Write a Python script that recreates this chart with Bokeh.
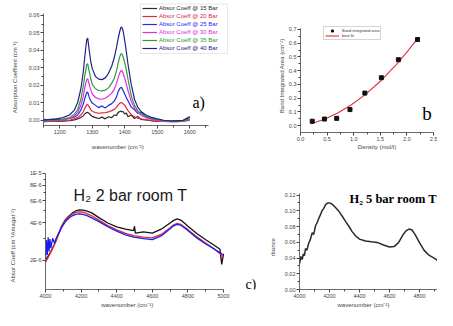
from bokeh.plotting import figure
from bokeh.layouts import column, row
from bokeh.models import (FixedTicker, PrintfTickFormatter, CustomJSTickFormatter, Label,
                          Legend, LegendItem, BoxAnnotation)
from bokeh.embed import file_html
from bokeh.resources import INLINE

# ---------------- panel a data ----------------
wn_a = [1150, 1170, 1190, 1210, 1230, 1245, 1255, 1265, 1272, 1278,
        1283, 1286, 1290, 1295, 1300, 1310, 1320, 1330, 1340, 1350,
        1360, 1368, 1375, 1380, 1385, 1388, 1391, 1395, 1400, 1405,
        1410, 1420, 1430, 1440, 1450, 1465, 1480, 1500, 1520, 1540,
        1560, 1580, 1600]
bar15 = [-0.0008, -0.0007, -0.0006, -0.0005, -0.0003, 0.0002, 0.0008, 0.0016, 0.0025, 0.0038,
         0.0044, 0.0045, 0.0040, 0.0030, 0.0022, 0.0015, 0.0010, 0.0018, 0.0008, 0.0020,
         0.0015, 0.0030, 0.0028, 0.0045, 0.0050, 0.0053, 0.0048, 0.0050, 0.0035, 0.0042,
         0.0020, 0.0030, 0.0010, 0.0022, 0.0005, 0.0002, -0.0003, -0.0006, -0.0007, -0.0006,
         -0.0004, 0.0000, 0.0020]
bar20 = [-0.0006, -0.0005, -0.0004, -0.0003, 0.0000, 0.0008, 0.0015, 0.0030, 0.0048, 0.0072,
         0.0088, 0.0090, 0.0078, 0.0062, 0.0050, 0.0044, 0.0040, 0.0042, 0.0043, 0.0048,
         0.0055, 0.0062, 0.0075, 0.0088, 0.0098, 0.0101, 0.0100, 0.0094, 0.0085, 0.0070,
         0.0055, 0.0032, 0.0020, 0.0012, 0.0008, 0.0003, -0.0001, -0.0005, -0.0007, -0.0008,
         -0.0008, -0.0006, 0.0000]
bar25 = [0.0005, 0.0002, 0.0006, 0.0004, 0.0010, 0.0018, 0.0030, 0.0058, 0.0090, 0.0130,
         0.0158, 0.0162, 0.0135, 0.0112, 0.0098, 0.0085, 0.0072, 0.0082, 0.0070, 0.0085,
         0.0095, 0.0110, 0.0135, 0.0165, 0.0182, 0.0188, 0.0185, 0.0170, 0.0150, 0.0128,
         0.0112, 0.0075, 0.0060, 0.0040, 0.0045, 0.0020, 0.0010, 0.0003, -0.0002, -0.0005,
         -0.0006, -0.0003, 0.0005]
bar30 = [-0.0004, -0.0003, -0.0002, 0.0002, 0.0010, 0.0025, 0.0045, 0.0085, 0.0135, 0.0195,
         0.0232, 0.0238, 0.0210, 0.0175, 0.0150, 0.0130, 0.0122, 0.0120, 0.0126, 0.0138,
         0.0155, 0.0178, 0.0212, 0.0245, 0.0272, 0.0282, 0.0284, 0.0268, 0.0240, 0.0205,
         0.0170, 0.0108, 0.0068, 0.0044, 0.0030, 0.0015, 0.0006, -0.0002, -0.0006, -0.0008,
         -0.0008, -0.0005, 0.0006]
bar35 = [-0.0003, -0.0002, 0.0000, 0.0005, 0.0015, 0.0035, 0.0060, 0.0120, 0.0190, 0.0265,
         0.0318, 0.0324, 0.0285, 0.0240, 0.0205, 0.0180, 0.0170, 0.0168, 0.0172, 0.0185,
         0.0212, 0.0240, 0.0285, 0.0330, 0.0365, 0.0378, 0.0380, 0.0362, 0.0330, 0.0285,
         0.0235, 0.0140, 0.0085, 0.0055, 0.0038, 0.0022, 0.0012, 0.0003, -0.0003, -0.0006,
         -0.0007, -0.0004, 0.0008]
bar40 = [0.0000, 0.0005, 0.0008, 0.0015, 0.0030, 0.0058, 0.0100, 0.0180, 0.0270, 0.0380,
         0.0460, 0.0470, 0.0410, 0.0340, 0.0295, 0.0250, 0.0235, 0.0232, 0.0242, 0.0268,
         0.0310, 0.0360, 0.0420, 0.0470, 0.0510, 0.0530, 0.0532, 0.0510, 0.0455, 0.0390,
         0.0320, 0.0205, 0.0120, 0.0075, 0.0050, 0.0030, 0.0018, 0.0008, 0.0000, -0.0003,
         -0.0004, 0.0000, 0.0018]
labels_a = ["Absor Coeff @ 15 Bar", "Absor Coeff @ 20 Bar", "Absor Coeff @ 25 Bar",
            "Absor Coeff @ 30 Bar", "Absor Coeff @ 35 Bar", "Absor Coeff @ 40 Bar"]
colors_a = ["#2a2a2a", "#e0283a", "#2a2ae8", "#e22ee2", "#2f9a3a", "#22228a"]
xticks_a = [1200, 1300, 1400, 1500, 1600]
yticks_a = [0.00, 0.01, 0.02, 0.03, 0.04, 0.05, 0.06]

# ---------------- panel b data ----------------
density = [0.22, 0.45, 0.68, 0.93, 1.21, 1.52, 1.84, 2.20]
band_area = [0.032, 0.048, 0.053, 0.117, 0.237, 0.349, 0.480, 0.627]
fit_x = [0.2, 0.45, 0.7, 0.95, 1.2, 1.5, 1.8, 2.0, 2.2]
fit_y = [0.0144, 0.0465, 0.0917, 0.150, 0.220, 0.323, 0.445, 0.535, 0.634]
xticks_b = [0.0, 0.5, 1.0, 1.5, 2.0, 2.5]
yticks_b = [0.0, 0.1, 0.2, 0.3, 0.4, 0.5, 0.6, 0.7]

# ---------------- panel c data (x 1e-6) ----------------
wn_c = [4000, 4005, 4010, 4015, 4020, 4025, 4030, 4040, 4050, 4060,
        4075, 4090, 4110, 4130, 4150, 4170, 4190, 4210, 4230, 4260,
        4300, 4350, 4400, 4450, 4495, 4500, 4505, 4550, 4600, 4650,
        4700, 4720, 4740, 4760, 4780, 4800, 4850, 4900, 4950, 4980,
        4990, 5000]
black_c = [2.02, 2.05, 2.10, 2.15, 2.22, 2.28, 2.35, 2.50, 2.68, 2.90,
           3.30, 3.75, 4.20, 4.52, 4.78, 4.98, 5.08, 5.05, 4.98, 4.80,
           4.40, 3.98, 3.70, 3.55, 3.45, 3.75, 3.30, 3.38, 3.30, 3.55,
           3.98, 4.18, 4.30, 4.20, 3.98, 3.75, 3.28, 2.92, 2.62, 2.45,
           1.85, 2.25]
red_c = [1.92, 1.98, 2.04, 2.10, 2.17, 2.24, 2.32, 2.48, 2.66, 2.88,
         3.28, 3.72, 4.15, 4.45, 4.68, 4.84, 4.90, 4.86, 4.76, 4.55,
         4.20, 3.80, 3.50, 3.28, 3.15, 3.14, 3.13, 3.06, 3.02, 3.22,
         3.65, 3.85, 3.95, 3.88, 3.70, 3.52, 3.08, 2.75, 2.45, 2.25,
         2.18, 2.10]
blue_c = [2.05, 2.90, 2.20, 3.05, 2.35, 2.95, 2.50, 3.00, 2.75, 3.00,
          3.30, 3.65, 4.05, 4.35, 4.55, 4.68, 4.72, 4.68, 4.58, 4.38,
          4.08, 3.72, 3.42, 3.20, 3.07, 3.06, 3.05, 2.98, 2.93, 3.13,
          3.58, 3.78, 3.88, 3.82, 3.65, 3.47, 3.02, 2.70, 2.45, 2.30,
          2.25, 2.22]
xticks_c = [4000, 4200, 4400, 4600, 4800, 5000]
yticks_c = [2e-6, 4e-6, 6e-6, 8e-6, 1e-5]

# ---------------- panel d data ----------------
wn_d = [4000, 4010, 4018, 4025, 4033, 4040, 4050, 4060, 4073, 4085,
        4095, 4107, 4120, 4130, 4140, 4150, 4162, 4175, 4190, 4205,
        4220, 4240, 4262, 4285, 4307, 4330, 4351, 4375, 4400, 4440,
        4480, 4518, 4560, 4600, 4630, 4660, 4690, 4710, 4730, 4750,
        4770, 4800, 4830, 4860, 4900, 4950, 5000]
absorb_d = [0.033, 0.042, 0.038, 0.045, 0.043, 0.052, 0.050, 0.058, 0.064, 0.072,
            0.070, 0.081, 0.086, 0.091, 0.095, 0.100, 0.103, 0.108, 0.110, 0.1095,
            0.108, 0.104, 0.0995, 0.093, 0.0865, 0.080, 0.0735, 0.068, 0.064, 0.0615,
            0.0605, 0.0598, 0.0565, 0.054, 0.0545, 0.0595, 0.0695, 0.0745, 0.0768, 0.0755,
            0.070, 0.0595, 0.050, 0.044, 0.0395, 0.033, 0.028]
xticks_d = [4000, 4200, 4400, 4600, 4800, 5000]
yticks_d = [0.00, 0.02, 0.04, 0.06, 0.08, 0.10, 0.12]

SANS = "Liberation Sans"
SERIF = "Liberation Serif"
NB = "\u00a0"


def style(p, xlab, ylab, xstand, ystand):
    p.outline_line_color = None
    p.xgrid.visible = False
    p.ygrid.visible = False
    p.background_fill_color = "white"
    p.border_fill_color = "white"
    p.xaxis.axis_label = xlab
    p.yaxis.axis_label = ylab
    p.xaxis.axis_label_standoff = xstand
    p.yaxis.axis_label_standoff = ystand
    for ax in (p.xaxis[0], p.yaxis[0]):
        ax.axis_line_color = "#444444"
        ax.axis_line_width = 0.8
        ax.major_tick_line_color = "#444444"
        ax.minor_tick_line_color = "#444444"
        ax.major_tick_out = 3
        ax.major_tick_in = 0
        ax.minor_tick_out = 2
        ax.minor_tick_in = 0
        ax.major_label_text_font_size = "5.5px"
        ax.major_label_text_color = "#444444"
        ax.major_label_text_font = SANS
        ax.major_label_standoff = 1
        ax.axis_label_text_font_size = "6px"
        ax.axis_label_text_font_style = "normal"
        ax.axis_label_text_color = "#444444"
        ax.axis_label_text_font = SANS


# ================= panel a =================
pa = figure(width=230, height=160, x_range=(1150, 1725.4), y_range=(-0.003, 0.06729),
            output_backend="svg", toolbar_location=None,
            min_border_left=43, min_border_right=0, min_border_top=2, min_border_bottom=35)
style(pa, "wavenumber (cm\u207b\u00b9)" + NB * 23,
      "Absorption Coeffient (cm\u207b\u00b9)" + NB * 16, 7, 8)
pa.xaxis.bounds = (1150, 1657)
pa.yaxis.bounds = (-0.003, 0.061)
pa.xaxis.ticker = FixedTicker(ticks=xticks_a, minor_ticks=[1150, 1250, 1350, 1450, 1550, 1650])
pa.yaxis.ticker = FixedTicker(ticks=yticks_a, minor_ticks=[0.005, 0.015, 0.025, 0.035, 0.045, 0.055])
pa.xaxis.formatter = PrintfTickFormatter(format="%d")
pa.yaxis.formatter = PrintfTickFormatter(format="%.2f")

series_a = [bar15, bar20, bar25, bar30, bar35, bar40]
rend_a = []
for ys, col in zip(series_a, colors_a):
    rend_a.append(pa.line(wn_a, ys, line_color=col, line_width=1.2))

pa.add_layout(BoxAnnotation(left=1448.5, right=1716, top=0.06643, bottom=0.03814,
                            fill_alpha=0, line_color="#9a9a9a", line_width=0.8))
for i, (lab, r, col) in enumerate(zip(labels_a, rend_a, colors_a)):
    lg = Legend(items=[LegendItem(label=lab, renderers=[r])], location=(99, 113 - 8 * i),
                border_line_color=None, background_fill_alpha=0, padding=0, margin=0,
                spacing=0, label_height=8, glyph_height=8, glyph_width=15, label_standoff=2,
                label_text_font_size="6px", label_text_color=col, label_text_font=SANS)
    pa.add_layout(lg)

pa.add_layout(Label(x=1608.5, y=0.01014, text="a)", text_font=SERIF, text_font_size="16px",
                    text_baseline="alphabetic", text_color="black"))

# ================= panel b =================
pb = figure(width=207, height=160, x_range=(0, 2.5), y_range=(-0.05, 0.8966),
            output_backend="svg", toolbar_location=None,
            min_border_left=70, min_border_right=4, min_border_top=2, min_border_bottom=28)
style(pb, NB * 12 + "Density (mol/l)",
      "Band Integrated Area (cm\u207b\u00b2)" + NB * 10, 0, 1)
pb.yaxis.bounds = (-0.05, 0.707)
pb.xaxis.ticker = FixedTicker(ticks=xticks_b, minor_ticks=[0.25, 0.75, 1.25, 1.75, 2.25])
pb.yaxis.ticker = FixedTicker(ticks=yticks_b, minor_ticks=[0.05, 0.15, 0.25, 0.35, 0.45, 0.55, 0.65])
pb.xaxis.formatter = PrintfTickFormatter(format="%.1f")
pb.yaxis.formatter = PrintfTickFormatter(format="%.1f")

fit_r = pb.line(fit_x, fit_y, line_color="#e0303a", line_width=1.1)
pts_r = pb.scatter(density, band_area, marker="square", size=4, color="#111111")
lgb = Legend(items=[LegendItem(label="Band integrated area", renderers=[pts_r]),
                    LegendItem(label="best fit", renderers=[fit_r])],
             location=(23, 92), label_text_font_size="4px", label_height=5, glyph_height=5,
             glyph_width=14, spacing=0, padding=1, margin=0, border_line_color="#aaaaaa",
             border_line_width=0.6, label_standoff=3, label_text_font=SANS,
             label_text_color="#333333", background_fill_alpha=0)
pb.add_layout(lgb)
pb.add_layout(Label(x=2.29, y=0.0886, text="b", text_font=SERIF, text_font_size="19px",
                    text_baseline="alphabetic", text_color="black"))

# ================= panel c =================
pc = figure(width=260, height=150, x_range=(4000, 5207.9), y_range=(1.16e-6, 1.2e-5),
            y_axis_type="log", output_backend="svg", toolbar_location=None,
            min_border_left=45, min_border_right=0, min_border_top=3, min_border_bottom=19)
style(pc, "wavenumber (cm\u207b\u00b9)" + NB * 31,
      "Absor Coeff (cm\u207b\u00b9Amagat\u207b\u00b2)" + NB * 23, 1, 11)
pc.xaxis.bounds = (4000, 5000)
pc.yaxis.bounds = (1.16e-6, 1e-5)
pc.xaxis.ticker = FixedTicker(ticks=xticks_c, minor_ticks=[4100, 4300, 4500, 4700, 4900])
pc.yaxis.ticker = FixedTicker(ticks=yticks_c, minor_ticks=[3e-6, 5e-6, 7e-6, 9e-6])
pc.xaxis.formatter = PrintfTickFormatter(format="%d")
pc.yaxis.formatter = CustomJSTickFormatter(code="return tick.toExponential(0).toUpperCase();")

for vals, col in ((black_c, "#141414"), (red_c, "#e4283a"), (blue_c, "#1c1cee")):
    pc.line(wn_c, [v * 1e-6 for v in vals], line_color=col, line_width=1.3)

pc.add_layout(Label(x=4157, y=6.69e-6, text="H\u2082 2 bar room T", text_font=SANS,
                    text_font_size="16px", text_baseline="alphabetic", text_color="#1a1a1a"))
pc.add_layout(Label(x=5123, y=1.28e-6, text="c)", text_font=SERIF, text_font_size="14px",
                    text_baseline="alphabetic", text_color="black"))

# ================= panel d =================
pd_ = figure(width=177, height=150, x_range=(4000, 4920), y_range=(0, 0.16),
             output_backend="svg", toolbar_location=None,
             min_border_left=39, min_border_right=0, min_border_top=3, min_border_bottom=19)
style(pd_, "wavenumber (cm\u207b\u00b9)" + NB * 6, "rbance" + NB * 25, 1, 6)
pd_.yaxis.bounds = (0, 0.122)
pd_.xaxis.ticker = FixedTicker(ticks=xticks_d, minor_ticks=[4100, 4300, 4500, 4700, 4900])
pd_.yaxis.ticker = FixedTicker(ticks=yticks_d, minor_ticks=[0.01, 0.03, 0.05, 0.07, 0.09, 0.11])
pd_.xaxis.formatter = PrintfTickFormatter(format="%d")
pd_.yaxis.formatter = PrintfTickFormatter(format="%.2f")

pd_.line(wn_d, absorb_d, line_color="#2a2a2a", line_width=1.5)
pd_.add_layout(Label(x=4333, y=0.115, text="H\u2082 5 bar  room T", text_font=SERIF,
                     text_font_size="12.5px", text_font_style="bold",
                     text_baseline="alphabetic", text_color="black"))

layout = column(row(column(pa), column(pb)), row(pc, pd_))
open("out.html", "w").write(file_html(layout, INLINE))
